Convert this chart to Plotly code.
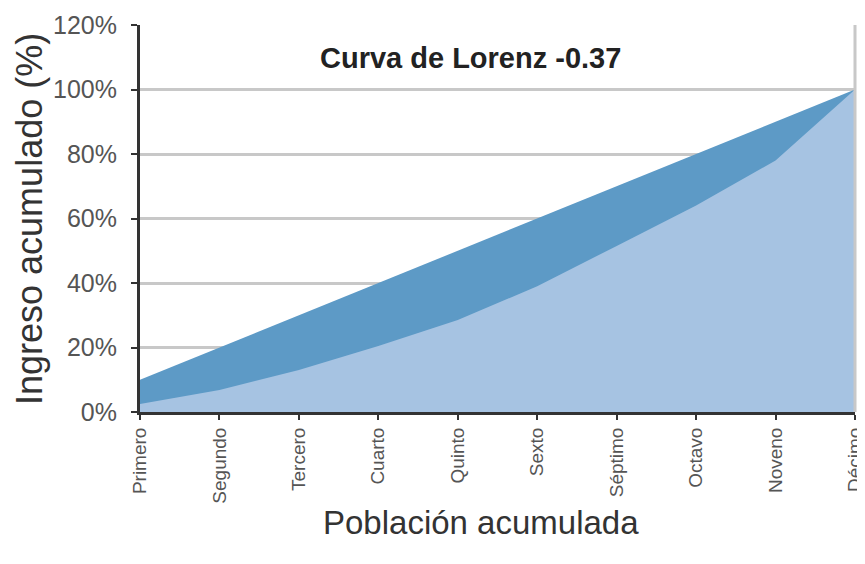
import plotly.graph_objects as go

categorias = ["Primero", "Segundo", "Tercero", "Cuarto", "Quinto",
              "Sexto", "Séptimo", "Octavo", "Noveno", "Décimo"]
igualdad = [10, 20, 30, 40, 50, 60, 70, 80, 90, 100]
lorenz = [2.5, 6.8, 13, 20.5, 28.5, 39, 51.5, 64, 78, 100]
y_ticks = [0, 20, 40, 60, 80, 100, 120]

FONT = "Liberation Sans, Arial, Helvetica, sans-serif"

fig = go.Figure()
fig.add_trace(go.Scatter(
    x=categorias, y=igualdad, mode="lines", fill="tozeroy",
    fillcolor="#5d9ac6", line=dict(width=0, color="#5d9ac6"),
    hoverinfo="skip", showlegend=False))
fig.add_trace(go.Scatter(
    x=categorias, y=lorenz, mode="lines", fill="tozeroy",
    fillcolor="#a6c3e2", line=dict(width=0, color="#a6c3e2"),
    hoverinfo="skip", showlegend=False))

fig.update_layout(
    width=865, height=564,
    margin=dict(l=132, r=18, t=17, b=160, autoexpand=False),
    paper_bgcolor="white", plot_bgcolor="white",
    font=dict(family=FONT, color="#333333"),
    xaxis=dict(
        type="category", range=[0, 9], automargin=False,
        tickangle=-90, tickfont=dict(size=19, color="#555555"),
        showgrid=False, showline=True, linecolor="#333333", linewidth=3,
        ticks="outside", ticklen=5, tickwidth=2, tickcolor="#333333",
        zeroline=False, mirror=False,
    ),
    yaxis=dict(
        range=[0, 120], tickvals=y_ticks, automargin=False,
        ticktext=[f"{v}%" for v in y_ticks],
        tickfont=dict(size=25, color="#555555"),
        ticklabelstandoff=9,
        showgrid=True, gridcolor="#c8c8c8", gridwidth=3,
        showline=True, linecolor="#333333", linewidth=3,
        ticks="outside", ticklen=6, tickwidth=2, tickcolor="#333333",
        zeroline=False,
    ),
    shapes=[dict(type="line", xref="paper", yref="paper",
                 x0=1, x1=1, y0=0, y1=1,
                 line=dict(color="#c8c8c8", width=3))],
    annotations=[
        dict(text="<b>Curva de Lorenz -0.37</b>",
             x=(470 - 140) / 715, y=(412 - 58) / 387,
             xref="paper", yref="paper", showarrow=False,
             xanchor="center", yanchor="middle",
             font=dict(size=29, color="#222222", family=FONT)),
        dict(text="Ingreso acumulado (%)",
             x=(30 - 140) / 715, y=(412 - 219) / 387,
             xref="paper", yref="paper", showarrow=False, textangle=-90,
             xanchor="center", yanchor="middle",
             font=dict(size=36, color="#333333", family=FONT)),
        dict(text="Población acumulada",
             x=(481 - 140) / 715, y=(412 - 522) / 387,
             xref="paper", yref="paper", showarrow=False,
             xanchor="center", yanchor="middle",
             font=dict(size=33, color="#333333", family=FONT)),
    ],
)

fig.write_html("out.html")
